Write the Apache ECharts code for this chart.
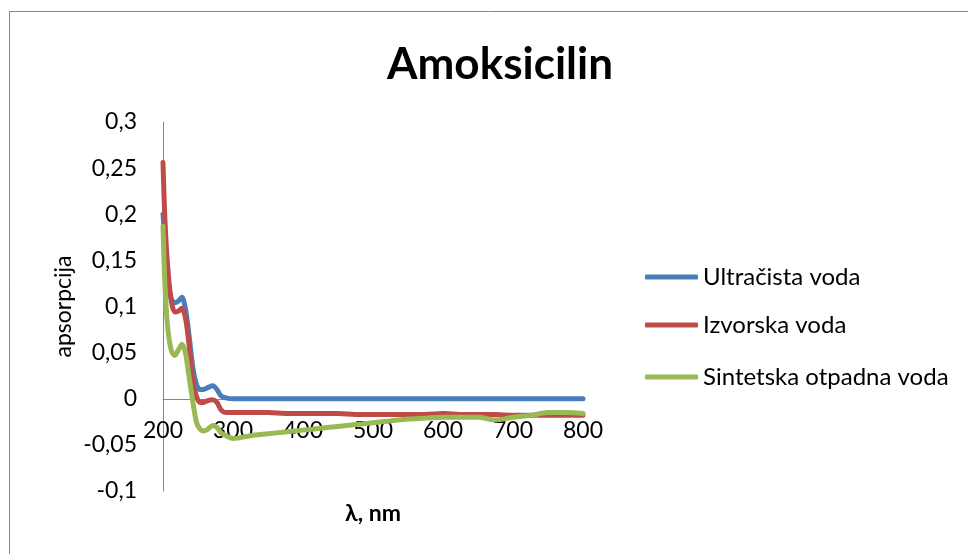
<!DOCTYPE html>
<html>
<head>
<meta charset="utf-8">
<script src="https://cdn.jsdelivr.net/npm/echarts@6/dist/echarts.min.js"></script>
<style>html,body{margin:0;padding:0;background:#fff}#c{width:968px;height:554px}</style>
</head>
<body>
<div id="c"></div>
<script>
var title = 'Amoksicilin';
var xName = 'λ, nm';
var yName = 'apsorpcija';
var seriesNames = ['Ultračista voda', 'Izvorska voda', 'Sintetska otpadna voda'];
var wavelengths = [200, 203, 207, 212, 217, 222, 227, 232, 237, 243, 248, 253, 258, 264, 271, 277, 283, 290, 300, 325, 350, 375, 400, 425, 450, 475, 500, 525, 550, 575, 600, 625, 650, 675, 700, 725, 750, 775, 800];
var ultracista = [0.20, 0.17, 0.13, 0.108, 0.104, 0.106, 0.110, 0.098, 0.070, 0.032, 0.015, 0.010, 0.010, 0.012, 0.014, 0.010, 0.003, 0.001, 0.000, 0.000, 0.000, 0.000, 0.000, 0.000, 0.000, 0.000, 0.000, 0.000, 0.000, 0.000, 0.000, 0.000, 0.000, 0.000, 0.000, 0.000, 0.000, 0.000, 0.000];
var izvorska = [0.256, 0.19, 0.14, 0.105, 0.094, 0.095, 0.098, 0.088, 0.060, 0.017, 0.002, -0.004, -0.004, -0.002, -0.001, -0.004, -0.012, -0.015, -0.015, -0.015, -0.015, -0.016, -0.016, -0.016, -0.016, -0.017, -0.017, -0.017, -0.017, -0.017, -0.016, -0.017, -0.017, -0.017, -0.018, -0.018, -0.018, -0.018, -0.018];
var sintetska = [0.187, 0.12, 0.075, 0.052, 0.047, 0.053, 0.059, 0.050, 0.025, -0.005, -0.026, -0.033, -0.035, -0.033, -0.029, -0.031, -0.037, -0.040, -0.043, -0.040, -0.038, -0.036, -0.034, -0.032, -0.030, -0.028, -0.026, -0.024, -0.022, -0.021, -0.020, -0.020, -0.020, -0.023, -0.020, -0.018, -0.015, -0.015, -0.016];
var yTickMin = -0.1, yTickMax = 0.3, yTickStep = 0.05;
var xTickMin = 200, xTickMax = 800, xTickStep = 100;

var colors = ['#4a7ebb', '#be4b48', '#98b954'];
var values = [ultracista, izvorska, sintetska];
var FONT = 'Lato';
var FS = 23;

var gridTop = 122, gridBottom = 63, chartH = 554;

function pairs(v) { return wavelengths.map(function (w, i) { return [w, v[i]]; }); }
function fmt(v) { return String(+v.toFixed(2)).replace('.', ','); }

var legendTops = [265, 313, 365];
var chart = echarts.init(document.getElementById('c'));
var plotH = chartH - gridTop - gridBottom;
var zeroOffset = -Math.round(plotH * (0 - yTickMin) / (yTickMax - yTickMin));
chart.setOption({
  animation: false,
  backgroundColor: '#fff',
  title: {
    text: title, left: 495, top: 38, textAlign: 'center',
    textStyle: { fontFamily: FONT, fontSize: 44, fontWeight: 'bold', color: '#000' }
  },
  legend: seriesNames.map(function (n, i) {
    return {
      data: [{ name: n, icon: 'roundRect' }],
      left: 645, top: legendTops[i], itemWidth: 53, itemHeight: 5, itemGap: 3, padding: 0,
      textStyle: { fontFamily: FONT, fontSize: FS + 1, color: '#000' }
    };
  }),
  grid: { left: 163, right: 385, top: gridTop, bottom: gridBottom, containLabel: false, outerBoundsMode: 'none' },
  xAxis: {
    type: 'value', min: xTickMin, max: xTickMax, interval: xTickStep,
    position: 'bottom', offset: zeroOffset,
    name: xName, nameLocation: 'middle', nameGap: 103,
    nameTextStyle: { fontFamily: FONT, fontSize: FS, fontWeight: 'bold', color: '#000' },
    axisLine: { show: true, onZero: false, lineStyle: { color: '#868686', width: 1 } },
    axisTick: { show: false },
    splitLine: { show: false },
    axisLabel: { fontFamily: FONT, fontSize: FS, color: '#000', margin: 20, formatter: function (v) { return String(v); } }
  },
  yAxis: {
    type: 'value', min: yTickMin, max: yTickMax, interval: yTickStep,
    name: yName, nameLocation: 'middle', nameGap: 88, nameRotate: 90,
    nameTextStyle: { fontFamily: FONT, fontSize: FS, color: '#000' },
    axisLine: { show: true, onZero: false, lineStyle: { color: '#868686', width: 1 } },
    axisTick: { show: false },
    splitLine: { show: false },
    axisLabel: { fontFamily: FONT, fontSize: FS, color: '#000', margin: 26, formatter: fmt }
  },
  series: seriesNames.map(function (n, i) {
    return {
      name: n, type: 'line', data: pairs(values[i]), smooth: 0.3,
      symbol: 'none', color: colors[i], z: 3,
      lineStyle: { width: 5, color: colors[i], cap: 'round', join: 'round' }
    };
  }),
  graphic: [
    { type: 'line', shape: { x1: 9.5, y1: 11, x2: 9.5, y2: 554 }, style: { stroke: '#868686', lineWidth: 1 } },
    { type: 'line', shape: { x1: 9, y1: 11.5, x2: 968, y2: 11.5 }, style: { stroke: '#868686', lineWidth: 1 } }
  ]
});
</script>
</body>
</html>
